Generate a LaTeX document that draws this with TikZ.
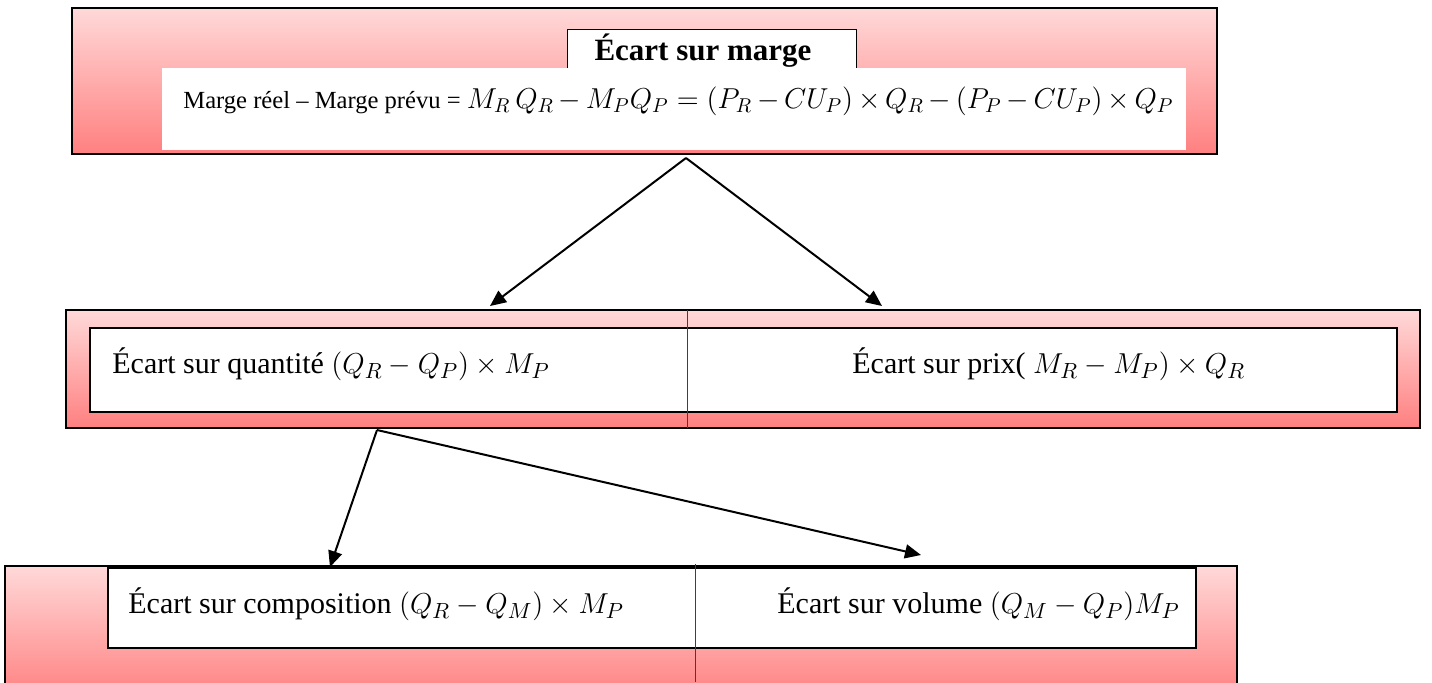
\documentclass[tikz,border=0pt]{standalone}
\usepackage{fontspec}
\setmainfont{Liberation Serif}
\usetikzlibrary{arrows.meta,fit}
\begin{document}
\begin{tikzpicture}[x=0.5pt,y=-0.5pt,
  outerbox/.style={draw=black, line width=1pt, top color=red!15, bottom color=red!50, inner sep=0pt},
  innerbox/.style={draw=black, fill=white, inner sep=0pt},
  whitebox/.style={fill=white, inner sep=0pt},
  divider/.style={draw=black!75, line width=0.5pt},
  txt/.style={anchor=base west, inner sep=0pt, font=\fontsize{15}{18}\selectfont},
  arr/.style={line width=1pt, -{Triangle[length=8pt,width=7pt]}}]
\clip (0,0) rectangle (1432,682);
% top block
\node[outerbox, fit={(72,8)(1217,154)}] (top) {};
\node[whitebox, fit={(568,30)(856,72)}] (titlebox) {};
\draw[line width=0.6pt] (titlebox.south west) |- (titlebox.north east) -- (titlebox.south east);
\node[whitebox, fit={(162,68)(1186,150)}] (formbox) {};
\node[anchor=base, inner sep=0pt, font=\fontsize{15.5}{18}\selectfont\bfseries] (title) at (703,60) {Écart sur marge};
\node[txt, font=\fontsize{12.3}{14}\selectfont] (formula) at (183,108) {Marge réel – Marge prévu = {\fontsize{14.4}{16}\selectfont$\medmuskip=3mu M_R\,Q_R-M_PQ_P=(P_R-CU_P)\times Q_R-(P_P-CU_P)\times Q_P$}};
% middle block
\node[outerbox, fit={(66,310)(1420,428)}] (mid) {};
\node[innerbox, line width=1pt, fit={(90,328)(1397,412)}] (midin) {};
\coordinate (md1) at (687,310);
\coordinate (md2) at (687,428);
\draw[divider] (md1) -- (md2);
\node[txt] (qty) at (112,373) {Écart sur quantité $(Q_R-Q_P)\times M_P$};
\node[txt] (prix) at (852,373) {Écart sur prix( $M_R-M_P)\times Q_R$};
% bottom block
\node[outerbox, fit={(5,566)(1237,700)}] (bot) {};
\node[innerbox, line width=0.6pt, fit={(108,568)(1196,648)}] (botin) {};
\coordinate (bd1) at (695,564);
\coordinate (bd2) at (695,682);
\draw[divider] (bd1) -- (bd2);
\node[txt] (comp) at (128,613) {Écart sur composition $(Q_R-Q_M)\times M_P$};
\node[txt] (vol) at (777,613) {Écart sur volume $(Q_M-Q_P)M_P$};
% arrows
\coordinate (s1) at (686,158);
\coordinate (e1) at (490,306);
\coordinate (e2) at (882,306);
\coordinate (s2) at (377,430);
\coordinate (e3) at (330,567);
\coordinate (e4) at (921,555);
\draw[arr] (s1) -- (e1);
\draw[arr] (s1) -- (e2);
\draw[arr] (s2) -- (e3);
\draw[arr] (s2) -- (e4);
\end{tikzpicture}
\end{document}
